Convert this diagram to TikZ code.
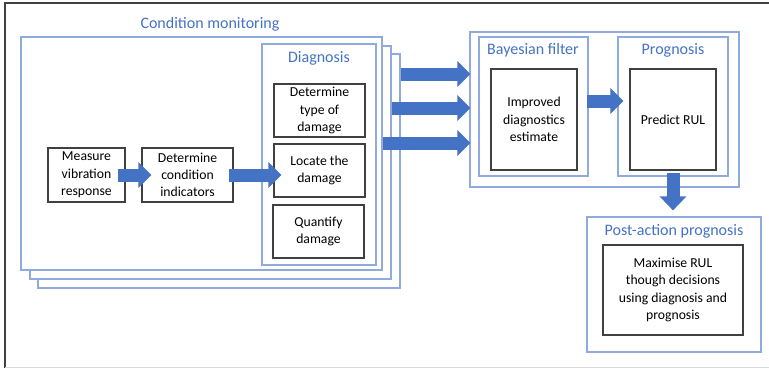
\documentclass[tikz,border=0pt]{standalone}
\usepackage{fontspec}
\setmainfont{Carlito}
\usetikzlibrary{arrows.meta,calc}
\definecolor{frameblue}{HTML}{8FAADC}
\definecolor{titleblue}{HTML}{4472C4}
\definecolor{arrowblue}{HTML}{4472C4}
\definecolor{boxgray}{HTML}{404040}
\tikzset{
  frame/.style={draw=frameblue, line width=1.2pt, fill=white, inner sep=0pt},
  titletext/.style={text=titleblue, font=\fontsize{16}{19}\selectfont, inner sep=0pt},
  box/.style={draw=boxgray, line width=1.2pt, fill=white, align=center, inner sep=0pt,
              font=\fontsize{13.7}{17.3}\selectfont},
  blockarrow/.style={draw=arrowblue, line width=13pt,
              -{Triangle[length=13pt,width=25pt]}},
}
\begin{document}
\begin{tikzpicture}[x=1pt,y=-1pt]
\useasboundingbox (0,0) rectangle (769,368);
% outer image frame
\draw[boxgray, line width=1.4pt] (5,368) -- (5,3) -- (769,3);
\draw[black!15, line width=1pt] (5,367) -- (769,367);

% helper coordinates
\coordinate (yA) at (0,74);
\coordinate (yB) at (0,108);
\coordinate (yC) at (0,143);
\coordinate (yM) at (0,175);
\coordinate (yBP) at (0,101);

% condition monitoring stack
\node[frame, minimum width=362pt, minimum height=234pt] (cm3) at (219,171) {};
\node[frame, minimum width=361pt, minimum height=233pt] (cm2) at (210.5,162.5) {};
\node[frame, minimum width=361pt, minimum height=233pt] (cm1) at (201.5,153.5) {};
\node[titletext] (cmt) at (210,24) {Condition monitoring};

% diagnosis
\node[frame, minimum width=114pt, minimum height=221pt] (diag) at (319,154.5) {};
\node[titletext] (diagt) at (319,58) {Diagnosis};
\node[box, minimum width=91pt, minimum height=53pt] (dtype) at (319.5,110.5) {Determine\\type of\\damage};
\node[box, minimum width=91pt, minimum height=53pt] (dloc) at (319.5,170.5) {Locate the\\damage};
\node[box, minimum width=91pt, minimum height=53pt] (dquant) at (318.5,231.5) {Quantify\\damage};

\node[box, minimum width=77pt, minimum height=54pt] (meas) at (86.5,175) {Measure\\vibration\\response};
\node[box, minimum width=91pt, minimum height=54pt] (cind) at (187.5,175) {Determine\\condition\\indicators};

% Bayesian filter + prognosis
\node[frame, minimum width=269pt, minimum height=155pt] (bp) at (604.5,109.5) {};
\node[frame, minimum width=109pt, minimum height=139pt] (bayes) at (533.5,106.5) {};
\node[titletext] (bayest) at (533,50) {Bayesian filter};
\node[box, minimum width=86pt, minimum height=101pt] (impr) at (534,119.5) {Improved\\diagnostics\\estimate};
\node[frame, minimum width=110pt, minimum height=139pt] (prog) at (673,106.5) {};
\node[titletext] (progt) at (673,50) {Prognosis};
\node[box, minimum width=86pt, minimum height=101pt] (pred) at (673,119.5) {Predict RUL};

% post-action prognosis
\node[frame, minimum width=174pt, minimum height=135pt] (post) at (674,284.5) {};
\node[titletext] (postt) at (674,231) {Post-action prognosis};
\node[box, minimum width=140pt, minimum height=90pt] (maxim) at (673,290) {Maximise RUL\\though decisions\\using diagnosis and\\prognosis};

% block arrows
\draw[blockarrow] ($(meas.east |- yM)+(-8,0)$) -- ($(cind.west |- yM)+(10,0)$);
\draw[blockarrow] ($(cind.east |- yM)+(-5,0)$) -- ($(dloc.west |- yM)+(8,0)$);
\draw[blockarrow] (cm3.east |- yA) -- ($(bp.west |- yA)+(1,0)$);
\draw[blockarrow] (cm2.east |- yB) -- ($(bp.west |- yB)+(1,0)$);
\draw[blockarrow] (cm1.east |- yC) -- ($(bp.west |- yC)+(1,0)$);
\draw[blockarrow] ($(bayes.east |- yBP)+(-2,0)$) -- ($(prog.west |- yBP)+(6,0)$);
\draw[draw=arrowblue, line width=13pt, -{Triangle[length=14pt,width=26pt]}]
  ($(pred.south)+(0,2)$) -- ($(pred.south |- post.north)+(0,-6)$);
\end{tikzpicture}
\end{document}
